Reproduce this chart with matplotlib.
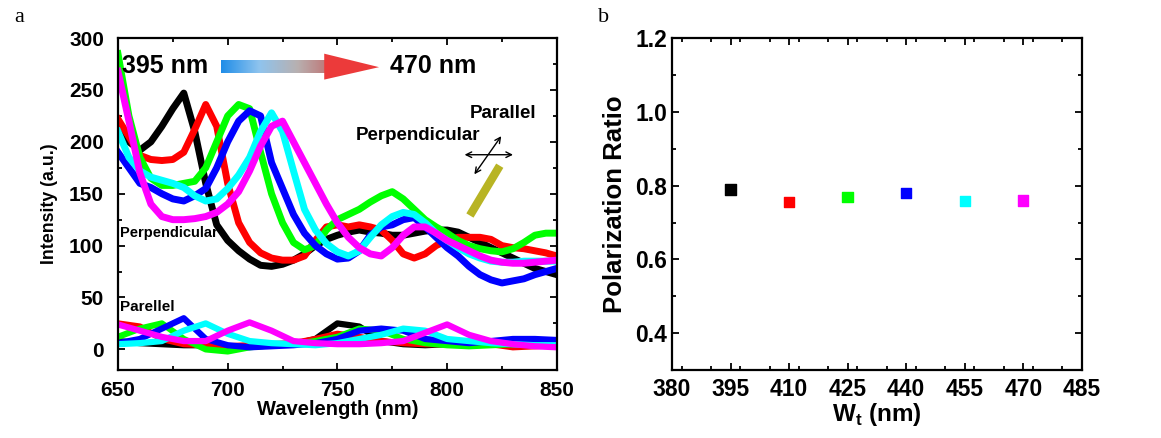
import numpy as np
import matplotlib
matplotlib.use("Agg")
import matplotlib.pyplot as plt
from matplotlib.ticker import MultipleLocator
from matplotlib.colors import LinearSegmentedColormap
from matplotlib.patches import Polygon

plt.rcParams['font.family'] = ['Liberation Sans', 'DejaVu Sans']
plt.rcParams['font.weight'] = 'bold'
plt.rcParams['mathtext.fontset'] = 'custom'
plt.rcParams['mathtext.bf'] = 'Liberation Sans:bold'
plt.rcParams['mathtext.rm'] = 'Liberation Sans:bold'

# ---- panel a : spectra ----
wl = np.arange(650, 851, 5)

perp_black = [210, 200, 192, 200, 215, 232, 247, 210, 160, 120, 105, 95, 87, 81, 80,
              82, 86, 92, 100, 106, 110, 113, 115, 113, 112, 110, 110, 112, 114, 115,
              115, 113, 108, 103, 98, 93, 88, 83, 78, 75, 72]
perp_red = [222, 205, 187, 183, 182, 183, 190, 212, 236, 215, 160, 122, 103, 93, 88,
            86, 86, 90, 105, 118, 120, 118, 120, 118, 115, 105, 92, 88, 92, 100,
            105, 108, 108, 108, 106, 100, 98, 97, 95, 93, 90]
perp_green = [285, 225, 185, 165, 158, 158, 160, 162, 175, 200, 225, 236, 232, 190, 150,
              122, 103, 96, 100, 115, 125, 130, 135, 142, 148, 152, 145, 135, 125, 118,
              112, 105, 100, 97, 95, 94, 97, 103, 110, 112, 112]
perp_blue = [190, 175, 160, 156, 150, 145, 143, 148, 155, 175, 200, 220, 230, 225, 180,
             155, 130, 112, 100, 92, 87, 88, 95, 110, 118, 120, 125, 127, 118, 108,
             98, 90, 80, 72, 67, 64, 66, 68, 72, 75, 78]
perp_cyan = [210, 185, 172, 166, 163, 160, 156, 148, 143, 145, 155, 168, 185, 210, 228,
             210, 172, 135, 115, 102, 94, 90, 95, 108, 120, 128, 132, 130, 122, 112,
             105, 98, 92, 88, 85, 84, 84, 85, 85, 85, 85]
perp_magenta = [268, 220, 170, 140, 128, 125, 125, 126, 128, 132, 140, 152, 172, 196, 215,
                220, 200, 180, 160, 140, 122, 108, 98, 92, 90, 98, 110, 118, 118, 112,
                105, 100, 95, 90, 86, 84, 83, 83, 84, 85, 86]

wl_par = np.arange(650, 851, 10)
par_black = [8, 6, 5, 4, 4, 3, 3, 4, 5, 10, 25, 22, 8, 5, 4, 5, 6, 5, 4, 4, 3]
par_red = [25, 22, 10, 5, 4, 3, 4, 5, 6, 10, 15, 12, 8, 6, 5, 5, 6, 5, 2, 3, 4]
par_green = [12, 20, 25, 10, 0, -2, 2, 4, 5, 8, 12, 20, 18, 10, 6, 4, 3, 4, 5, 5, 4]
par_blue = [6, 10, 20, 30, 10, 4, 2, 3, 4, 6, 10, 18, 20, 18, 10, 8, 6, 8, 10, 10, 9]
par_cyan = [5, 6, 8, 18, 25, 15, 8, 6, 5, 4, 6, 10, 14, 20, 18, 10, 8, 6, 5, 4, 4]
par_magenta = [24, 18, 12, 8, 8, 18, 26, 18, 8, 6, 5, 5, 6, 8, 16, 24, 14, 8, 5, 3, 2]

colors = ['black', '#ff0000', '#00ff00', '#0000ff', '#00ffff', '#ff00ff']
perp = [perp_black, perp_red, perp_green, perp_blue, perp_cyan, perp_magenta]
par = [par_black, par_red, par_green, par_blue, par_cyan, par_magenta]

# ---- panel b : polarization ratio ----
wt = [395, 410, 425, 440, 455, 470]
ratio = [0.79, 0.755, 0.77, 0.78, 0.758, 0.76]

fig = plt.figure(figsize=(11.61, 4.38), dpi=100)
ax1 = fig.add_axes([0.1016, 0.155, 0.378, 0.758])
ax2 = fig.add_axes([0.5788, 0.155, 0.353, 0.758])

for c, p in zip(colors, perp):
    ax1.plot(wl, p, color=c, lw=5, solid_joinstyle='round')
for c, p in zip(colors, par):
    ax1.plot(wl_par, p, color=c, lw=4.5)

ax1.xaxis.set_major_locator(MultipleLocator(50))
ax1.xaxis.set_minor_locator(MultipleLocator(25))
ax1.yaxis.set_major_locator(MultipleLocator(50))
ax1.yaxis.set_minor_locator(MultipleLocator(25))
ax1.tick_params(labelsize=15)
ax1.tick_params(axis='y', pad=10)
ax1.tick_params(axis='x', pad=8)
ax1.set_xlabel('Wavelength (nm)', fontsize=14.5, fontweight='bold', labelpad=0)
ax1.set_ylabel('Intensity (a.u.)', fontsize=12.8, fontweight='bold', labelpad=8)

ax1.text(651, 112, 'Perpendicular', fontsize=10.5, fontweight='bold', va='center', ha='left')
ax1.text(651, 41, 'Parellel', fontsize=11, fontweight='bold', va='center', ha='left')
ax1.text(652, 273, '395 nm', fontsize=18, fontweight='bold', va='center', ha='left')
ax1.text(774, 273, '470 nm', fontsize=18, fontweight='bold', va='center', ha='left')

# gradient arrow
grad = np.linspace(0, 1, 256).reshape(1, -1)
cmap = LinearSegmentedColormap.from_list('arr', ['#1f8de8', '#8fc4ee', '#b8b0b0', '#c06868'])
ax1.imshow(grad, cmap=cmap, extent=[697, 749, 266, 278], aspect='auto', zorder=3)
ax1.add_patch(Polygon([[744, 260], [769, 272], [744, 285]], closed=True,
                      facecolor='#ec3a3a', edgecolor='none', zorder=4))

ax1.text(810.4, 227, 'Parallel', fontsize=13.5, fontweight='bold', va='center', ha='left')
ax1.text(758.4, 206, 'Perpendicular', fontsize=13.5, fontweight='bold', va='center', ha='left')
ax1.annotate('', xy=(831.3, 187.6), xytext=(806.7, 187.6),
             arrowprops=dict(arrowstyle='<->', lw=1, color='black'))
ax1.annotate('', xy=(825.4, 207.7), xytext=(811.7, 166.5),
             arrowprops=dict(arrowstyle='<->', lw=1, color='black'))
ax1.plot([810.4, 824], [129, 177], color='#b8b424', lw=6, solid_capstyle='butt')

ax1.set_xlim(650, 850)
ax1.set_ylim(-20, 300)

ax2.scatter(wt, ratio, c=colors, marker='s', s=55, zorder=3)
ax2.set_xlim(380, 485)
ax2.set_ylim(0.3, 1.2)
ax2.set_xticks([380, 395, 410, 425, 440, 455, 470, 485])
ax2.xaxis.set_minor_locator(MultipleLocator(7.5))
ax2.set_yticks([0.4, 0.6, 0.8, 1.0, 1.2])
ax2.yaxis.set_minor_locator(MultipleLocator(0.1))
ax2.tick_params(labelsize=16.5)
ax2.tick_params(axis='x', pad=6)
ax2.set_xlabel(r'W$_\mathbf{t}$ (nm)', fontsize=17.5, fontweight='bold', labelpad=0)
ax2.set_ylabel('Polarization Ratio', fontsize=18.5, fontweight='bold', labelpad=6)

for ax in (ax1, ax2):
    ax.tick_params(which='both', direction='in', top=True, right=True, width=1.3)
    ax.tick_params(which='major', length=5)
    ax.tick_params(which='minor', length=3)
    for s in ax.spines.values():
        s.set_linewidth(1.6)
    for lab in ax.get_xticklabels() + ax.get_yticklabels():
        lab.set_fontweight('bold')

fig.text(0.012, 0.95, 'a', fontsize=16, family='Liberation Serif', fontweight='normal')
fig.text(0.515, 0.95, 'b', fontsize=16, family='Liberation Serif', fontweight='normal')

fig.savefig('out.png', dpi=100)
